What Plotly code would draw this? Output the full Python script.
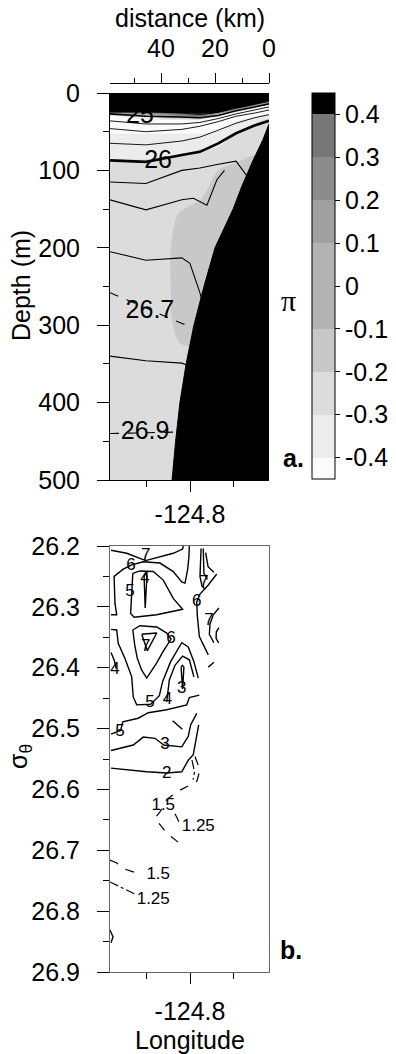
import plotly.graph_objects as go

W, H = 396, 1054
FONT = "Liberation Sans, Arial, Helvetica, sans-serif"

# ---------------- panel a data ----------------
station_km = [58.9, 45.6, 32.3, 25.6, 18.8, 12.2, 5.4, 0.0]

pi_km = [0.0, 5.4, 12.2, 18.8, 25.6, 32.3, 38.9, 45.6, 58.9]
pi_depth = [0, 5, 10, 15, 20, 25, 30, 35, 45, 60, 80, 100, 130, 160, 200, 250, 300, 350, 400, 500]
pi_field = [
    [0.45, 0.45, 0.45, 0.45, 0.45, 0.45, 0.45, 0.45, 0.45],
    [0.45, 0.45, 0.45, 0.45, 0.45, 0.45, 0.45, 0.45, 0.45],
    [0.42, 0.45, 0.45, 0.45, 0.45, 0.45, 0.45, 0.45, 0.45],
    [-0.42, 0.41, 0.45, 0.45, 0.45, 0.45, 0.45, 0.45, 0.45],
    [-0.42, -0.42, 0.41, 0.45, 0.45, 0.45, 0.45, 0.45, 0.45],
    [-0.42, -0.42, -0.42, 0.42, 0.45, 0.45, 0.45, 0.45, 0.42],
    [-0.35, -0.42, -0.42, -0.42, 0.30, 0.20, 0.0, -0.30, -0.42],
    [-0.25, -0.35, -0.42, -0.42, -0.42, -0.42, -0.42, -0.42, -0.42],
    [-0.25, -0.25, -0.35, -0.42, -0.42, -0.42, -0.42, -0.42, -0.42],
    [-0.25, -0.25, -0.25, -0.35, -0.38, -0.38, -0.38, -0.38, -0.38],
    [-0.20, -0.20, -0.25, -0.25, -0.25, -0.30, -0.32, -0.32, -0.32],
    [-0.15, -0.15, -0.15, -0.20, -0.25, -0.25, -0.25, -0.25, -0.25],
    [-0.15, -0.15, -0.15, -0.15, -0.22, -0.25, -0.25, -0.25, -0.25],
    [-0.15, -0.15, -0.15, -0.15, -0.15, -0.18, -0.25, -0.25, -0.25],
    [-0.12, -0.12, -0.12, -0.12, -0.12, -0.12, -0.25, -0.25, -0.25],
    [-0.12, -0.12, -0.12, -0.12, -0.12, -0.12, -0.25, -0.25, -0.25],
    [-0.15, -0.15, -0.15, -0.15, -0.15, -0.15, -0.25, -0.25, -0.25],
    [-0.25, -0.25, -0.25, -0.25, -0.25, -0.25, -0.25, -0.25, -0.25],
    [-0.25, -0.25, -0.25, -0.25, -0.25, -0.25, -0.25, -0.25, -0.25],
    [-0.25, -0.25, -0.25, -0.25, -0.25, -0.25, -0.25, -0.25, -0.25],
]
pi_levels = [-0.4, -0.3, -0.2, -0.1, 0.0, 0.1, 0.2, 0.3, 0.4]
pi_ticktext = ["-0.4", "-0.3", "-0.2", "-0.1", "0", "0.1", "0.2", "0.3", "0.4"]
pi_colors = ["#fbfbfb", "#ececec", "#dcdcdc", "#c8c8c8", "#b3b3b3",
             "#a0a0a0", "#8c8c8c", "#777777", "#5f5f5f", "#000000"]

bathy_km = [0.0, 2.2, 5.9, 10.0, 13.3, 20.0, 24.1, 27.8, 30.7, 33.0, 34.6, 35.9, 0.0]
bathy_depth = [40, 60, 87, 120, 150, 200, 250, 300, 350, 400, 450, 500, 500]

# isopycnal depths (m) at the stations
iso_t1 = [6, 7, 10, 12, 9, 6, 4, 3]
iso_t2 = [10, 11, 14, 16, 13, 9, 6, 4]
iso_t3 = [14, 15, 18, 20, 17, 12, 8, 6]
iso_t4 = [18, 19, 22, 24, 21, 15, 11, 8]
iso_t5 = [22, 24, 26, 28, 25, 19, 14, 11]
iso_250 = [27, 30, 31, 32, 29, 23, 18, 14]
iso_t7 = [36, 40, 40, 38, 33, 27, 22, 18]
iso_t8 = [46, 50, 47, 43, 37, 30, 26, 22]
iso_t9 = [65, 67, 62, 57, 48, 39, 32, 28]
iso_260 = [87, 89, 80, 76, 65, 52, 42, 36]
iso_b_km = [58.9, 45.6, 32.3, 25.6, 18.8, 12.2, 8.0]
iso_b_depth = [115, 117, 100, 97, 92, 88, 108]
iso_c_km = [58.9, 45.6, 32.3, 28.0, 23.0, 19.3, 16.5]
iso_c_depth = [138, 151, 138, 136, 145, 112, 100]
iso_d_km = [58.9, 45.6, 32.3, 29.3, 25.6, 23.5]
iso_d_depth = [205, 216, 213, 220, 258, 285]
iso_267_km = [58.9, 28.0]
iso_267_depth = [258, 304]
iso_e_km = [58.9, 45.6, 32.3, 30.0]
iso_e_depth = [340, 346, 349, 352]
iso_269_km = [58.9, 33.5]
iso_269_depth = [440, 438]

a_label_km = [47.8, 41.1, 44.1, 45.9]
a_label_depth = [31, 89, 283, 439]
a_label_text = ["25", "26", "26.7", "26.9"]

# ---------------- panel b data (longitude, sigma-theta) ----------------
b7a_lon = [-125.163, -125.091, -125.004, -124.938, -124.877, -124.834, -124.831]
b7a_sig = [26.207, 26.212, 26.224, 26.218, 26.212, 26.205, 26.200]
b6a_lon = [-125.163, -125.137, -125.145, -125.149, -125.107, -125.068, -125.015, -124.938,
           -124.877, -124.838, -124.823, -124.811, -124.805, -124.803]
b6a_sig = [26.313, 26.313, 26.294, 26.250, 26.238, 26.231, 26.226, 26.228,
           26.242, 26.259, 26.261, 26.239, 26.218, 26.200]
b5a_lon = [-125.063, -125.073, -125.057, -124.953, -124.834, -124.877, -124.923, -124.969, -125.030, -125.063]
b5a_sig = [26.245, 26.311, 26.317, 26.313, 26.304, 26.286, 26.256, 26.242, 26.241, 26.245]
b4a_lon = [-125.011, -125.006, -124.998, -125.004, -125.011]
b4a_sig = [26.250, 26.302, 26.250, 26.244, 26.250]
br1_lon = [-124.749, -124.754, -124.745, -124.730]
br1_sig = [26.204, 26.250, 26.266, 26.271]
br2_lon = [-124.739, -124.736, -124.720]
br2_sig = [26.204, 26.245, 26.255]
br3_lon = [-124.728, -124.717, -124.690]
br3_sig = [26.211, 26.234, 26.243]
br4_lon = [-124.677, -124.716, -124.754, -124.769, -124.766, -124.757, -124.716]
br4_sig = [26.246, 26.264, 26.279, 26.292, 26.316, 26.349, 26.379]
bar1_lon = [-124.667, -124.693, -124.708, -124.711, -124.690]
bar1_sig = [26.302, 26.313, 26.328, 26.345, 26.359]
bar2_lon = [-124.667, -124.679, -124.680, -124.668]
bar2_sig = [26.334, 26.341, 26.352, 26.359]
bf_lon = [-124.716, -124.690]
bf_sig = [26.399, 26.391]
b7b_lon = [-125.022, -124.953, -124.996, -125.022]
b7b_sig = [26.345, 26.343, 26.372, 26.345]
b6b_lon = [-125.063, -125.030, -124.953, -124.907, -124.887, -124.920, -124.953, -124.999,
           -125.022, -125.042, -125.054, -125.063]
b6b_sig = [26.338, 26.331, 26.333, 26.343, 26.353, 26.371, 26.392, 26.417,
           26.404, 26.385, 26.363, 26.338]
b5b_lon = [-125.163, -125.137, -125.130, -125.099, -125.068, -125.061, -125.045, -124.981,
           -124.941, -124.926, -124.889, -124.838, -124.808, -124.782, -124.762]
b5b_sig = [26.337, 26.338, 26.360, 26.385, 26.415, 26.448, 26.461, 26.460,
           26.446, 26.423, 26.390, 26.359, 26.366, 26.390, 26.417]
b4b_lon = [-124.907, -124.895, -124.869, -124.834, -124.803, -124.782]
b4b_sig = [26.456, 26.420, 26.396, 26.381, 26.387, 26.415]
b3a_lon = [-124.841, -124.834, -124.828, -124.835, -124.841]
b3a_sig = [26.399, 26.435, 26.399, 26.396, 26.399]
b4c_lon = [-125.163, -125.148, -125.140]
b4c_sig = [26.375, 26.388, 26.401]
b5c_lon = [-125.163, -125.119, -125.109, -125.038, -124.992, -124.907, -124.815, -124.803, -124.757]
b5c_sig = [26.509, 26.503, 26.489, 26.483, 26.474, 26.469, 26.461, 26.449, 26.445]
bdash_lon = [-124.880, -124.835]
bdash_sig = [26.487, 26.501]
b3b_lon = [-125.163, -125.061, -125.015, -124.961, -124.920, -124.838, -124.808, -124.797, -124.769]
b3b_sig = [26.536, 26.527, 26.514, 26.516, 26.527, 26.530, 26.513, 26.494, 26.475]
b2_lon = [-125.163, -124.999, -124.907, -124.838, -124.808, -124.785, -124.760]
b2_sig = [26.565, 26.571, 26.573, 26.571, 26.552, 26.543, 26.494]
b15a_lon = [-124.777, -124.754, -124.769, -124.861, -124.907, -124.938, -124.961, -124.907, -124.846]
b15a_sig = [26.546, 26.568, 26.587, 26.604, 26.617, 26.637, 26.647, 26.672, 26.689]
b125a_lon = [-124.791, -124.779, -124.786]
b125a_sig = [26.552, 26.571, 26.584]
b125b_lon = [-124.869, -124.851]
b125b_sig = [26.640, 26.653]
b15b_lon = [-125.168, -125.137, -125.091, -125.030]
b15b_sig = [26.716, 26.721, 26.732, 26.739]
b125c_lon = [-125.168, -125.122, -125.076, -125.053]
b125c_sig = [26.752, 26.760, 26.768, 26.772]
barc_lon = [-125.168, -125.154, -125.163]
barc_sig = [26.831, 26.842, 26.852]

b_label_lon = [-125.004, -125.071, -125.076, -125.007, -124.736, -124.769, -124.713, -125.004,
               -124.887, -124.984, -124.903, -124.838, -125.145, -125.122, -124.915, -124.907,
               -124.923, -124.762, -124.946, -124.969]
b_label_sig = [26.216, 26.233, 26.275, 26.253, 26.261, 26.292, 26.323, 26.366,
               26.353, 26.458, 26.453, 26.435, 26.404, 26.505, 26.527, 26.575,
               26.626, 26.661, 26.741, 26.781]
b_label_text = ["7", "6", "5", "4", "7", "6", "7", "7", "6", "5", "4", "3", "4", "5", "3", "2",
                "1.5", "1.25", "1.5", "1.25"]

lon_ticks = [-124.8]
lon_minor = [-125.0, -124.6]
depth_ticks = [0, 100, 200, 300, 400, 500]
depth_minor = [50, 150, 250, 350, 450]
dist_ticks = [0, 20, 40]
dist_minor = [10, 30, 50]
sig_ticks = [26.2, 26.3, 26.4, 26.5, 26.6, 26.7, 26.8, 26.9]
sig_minor = [26.25, 26.35, 26.45, 26.55, 26.65, 26.75, 26.85]

# ---------------- figure ----------------
fig = go.Figure()

# stepped colour scale matching plotly's filled-contour colour map
c_start, c_end, c_size = pi_levels[0], pi_levels[-1], 0.1
dom_lo, dom_hi = c_start - c_size, c_end


def spos(v):
    return round((v - dom_lo) / (dom_hi - dom_lo), 6)


cscale = [[0.0, pi_colors[0]]]
for i, e in enumerate(pi_levels[:-1]):
    cscale.append([spos(e), pi_colors[i]])
    cscale.append([spos(e), pi_colors[i + 1]])
cscale += [[0.99, pi_colors[8]], [0.99, pi_colors[9]], [1.0, pi_colors[9]]]

# empty trace that registers the longitude axis of panel a
fig.add_trace(go.Scatter(x=lon_ticks, y=[None], mode="markers", xaxis="x", yaxis="y",
                         hoverinfo="skip", showlegend=False))

fig.add_trace(go.Contour(
    x=pi_km, y=pi_depth, z=pi_field, xaxis="x2", yaxis="y",
    autocontour=False,
    contours=dict(start=c_start, end=c_end, size=c_size, coloring="fill", showlines=False),
    line=dict(width=0, smoothing=1),
    colorscale=cscale, hoverinfo="skip",
    colorbar=dict(
        x=312 / W, xanchor="left", y=1 - 286 / H, yanchor="middle",
        len=386, lenmode="pixels", thickness=23, thicknessmode="pixels",
        outlinewidth=1, outlinecolor="black", xpad=0, ypad=0,
        ticks="outside", ticklen=5, tickcolor="black",
        tickvals=pi_levels, ticktext=pi_ticktext,
        tickfont=dict(family=FONT, size=25, color="black"),
    ),
))

thin = dict(color="black", width=0.9)
for d in [iso_t1, iso_t2, iso_t3, iso_t4, iso_t5, iso_t7, iso_t8, iso_t9]:
    fig.add_trace(go.Scatter(x=station_km, y=d, mode="lines", line=thin, xaxis="x2", yaxis="y", hoverinfo="skip"))
fig.add_trace(go.Scatter(x=station_km, y=iso_250, mode="lines", line=dict(color="black", width=1.6), xaxis="x2", yaxis="y"))
fig.add_trace(go.Scatter(x=station_km, y=iso_260, mode="lines", line=dict(color="black", width=2.6), xaxis="x2", yaxis="y"))
for xs, ys in [(iso_b_km, iso_b_depth), (iso_c_km, iso_c_depth), (iso_d_km, iso_d_depth), (iso_e_km, iso_e_depth)]:
    fig.add_trace(go.Scatter(x=xs, y=ys, mode="lines", line=dict(color="black", width=1.1), xaxis="x2", yaxis="y"))
for xs, ys in [(iso_267_km, iso_267_depth), (iso_269_km, iso_269_depth)]:
    fig.add_trace(go.Scatter(x=xs, y=ys, mode="lines", line=dict(color="black", width=1.1, dash="dash"), xaxis="x2", yaxis="y"))

fig.add_trace(go.Scatter(x=bathy_km, y=bathy_depth, mode="lines", fill="toself", fillcolor="black",
                         line=dict(color="black", width=1), xaxis="x2", yaxis="y", hoverinfo="skip"))

fig.add_trace(go.Scatter(x=a_label_km, y=a_label_depth, text=a_label_text, mode="text",
                         textfont=dict(family=FONT, size=25, color="black"), xaxis="x2", yaxis="y"))

fig.add_trace(go.Scatter(x=station_km, y=[-5] * len(station_km), mode="markers", cliponaxis=False,
                         marker=dict(symbol="triangle-down", size=7, color="black"), xaxis="x2", yaxis="y"))

# panel b
solid_b = [(b7a_lon, b7a_sig), (b6a_lon, b6a_sig), (b5a_lon, b5a_sig), (b4a_lon, b4a_sig),
           (br1_lon, br1_sig), (br2_lon, br2_sig), (br3_lon, br3_sig), (br4_lon, br4_sig),
           (bar1_lon, bar1_sig), (bar2_lon, bar2_sig), (bf_lon, bf_sig), (b7b_lon, b7b_sig),
           (b6b_lon, b6b_sig), (b5b_lon, b5b_sig), (b4b_lon, b4b_sig), (b3a_lon, b3a_sig),
           (b4c_lon, b4c_sig), (b5c_lon, b5c_sig), (bdash_lon, bdash_sig), (b3b_lon, b3b_sig),
           (b2_lon, b2_sig), (barc_lon, barc_sig)]
for xs, ys in solid_b:
    fig.add_trace(go.Scatter(x=xs, y=ys, mode="lines", line=dict(color="black", width=1.4),
                             xaxis="x3", yaxis="y3", hoverinfo="skip"))
for xs, ys in [(b15a_lon, b15a_sig), (b15b_lon, b15b_sig)]:
    fig.add_trace(go.Scatter(x=xs, y=ys, mode="lines", line=dict(color="black", width=1.2, dash="dash"),
                             xaxis="x3", yaxis="y3"))
for xs, ys in [(b125a_lon, b125a_sig), (b125b_lon, b125b_sig), (b125c_lon, b125c_sig)]:
    fig.add_trace(go.Scatter(x=xs, y=ys, mode="lines", line=dict(color="black", width=1.2, dash="dashdot"),
                             xaxis="x3", yaxis="y3"))
fig.add_trace(go.Scatter(x=b_label_lon, y=b_label_sig, text=b_label_text, mode="text",
                         textfont=dict(family=FONT, size=17, color="black"), xaxis="x3", yaxis="y3"))

# ---------------- layout ----------------
xdom = [110 / W, 269 / W]
lon_range = [-124.8 - 80 * 0.2 / 43.5, -124.8 + 79 * 0.2 / 43.5]
tickfont = dict(family=FONT, size=25, color="black")
common = dict(showgrid=False, zeroline=False, ticks="outside", tickcolor="black", tickwidth=1,
              tickfont=tickfont, automargin=False)

fig.update_layout(
    width=W, height=H, autosize=False, margin=dict(l=0, r=0, t=0, b=0, pad=0, autoexpand=False),
    paper_bgcolor="white", plot_bgcolor="white", showlegend=False,
    font=dict(family=FONT, size=25, color="black"),
    xaxis=dict(domain=xdom, anchor="y", range=lon_range, showline=True, linecolor="black",
               ticklen=11, tickvals=lon_ticks, ticktext=["-124.8"], ticklabelstandoff=1,
               minor=dict(tickvals=lon_minor, ticks="outside", ticklen=6, tickcolor="black", showgrid=False),
               **common),
    xaxis2=dict(domain=xdom, overlaying="x", anchor="free", position=1 - 83 / H, side="top",
                range=[58.9, 0], showline=True, linecolor="black", ticklen=10, tickvals=dist_ticks,
                ticktext=[str(v) for v in dist_ticks], ticklabelstandoff=6,
                minor=dict(tickvals=dist_minor, ticks="outside", ticklen=5, tickcolor="black", showgrid=False),
                **common),
    yaxis=dict(domain=[1 - 480 / H, 1 - 93 / H], anchor="x", range=[500, 0], showline=True,
               linecolor="black", ticklen=12, tickvals=depth_ticks, ticklabelstandoff=12,
               minor=dict(tickvals=depth_minor, ticks="outside", ticklen=6, tickcolor="black", showgrid=False),
               **common),
    xaxis3=dict(domain=xdom, anchor="y3", range=lon_range, showline=True, linecolor="#666666",
                mirror=True, ticklen=11, tickvals=lon_ticks, ticktext=["-124.8"], ticklabelstandoff=6,
                minor=dict(tickvals=lon_minor, ticks="outside", ticklen=6, tickcolor="black", showgrid=False),
                **common),
    yaxis3=dict(domain=[1 - 972 / H, 1 - 546 / H], anchor="x3", range=[26.9, 26.2], showline=True,
                linecolor="#666666", mirror=True, ticklen=12, tickvals=sig_ticks,
                ticktext=["%.1f" % v for v in sig_ticks], ticklabelstandoff=12,
                minor=dict(tickvals=sig_minor, ticks="outside", ticklen=6, tickcolor="black", showgrid=False),
                **common),
    annotations=[
        dict(text="distance (km)", x=189.5 / W, y=1 - 18 / H, xref="paper", yref="paper",
             showarrow=False, xanchor="center", yanchor="middle", font=dict(family=FONT, size=25)),
        dict(text="Depth (m)", x=21 / W, y=1 - 286 / H, xref="paper", yref="paper", textangle=-90,
             showarrow=False, xanchor="center", yanchor="middle", font=dict(family=FONT, size=25)),
        dict(text="σ<sub>θ</sub>", x=20 / W, y=1 - 757 / H, xref="paper", yref="paper", textangle=-90,
             showarrow=False, xanchor="center", yanchor="middle", font=dict(family=FONT, size=25)),
        dict(text="Longitude", x=189.5 / W, y=1 - 1040 / H, xref="paper", yref="paper",
             showarrow=False, xanchor="center", yanchor="middle", font=dict(family=FONT, size=25)),
        dict(text="π", x=288 / W, y=1 - 300 / H, xref="paper", yref="paper",
             showarrow=False, xanchor="center", yanchor="middle",
             font=dict(family="Liberation Serif, DejaVu Serif, serif", size=30)),
        dict(text="<b>a.</b>", x=293 / W, y=1 - 458 / H, xref="paper", yref="paper",
             showarrow=False, xanchor="center", yanchor="middle", font=dict(family=FONT, size=25)),
        dict(text="<b>b.</b>", x=291 / W, y=1 - 950 / H, xref="paper", yref="paper",
             showarrow=False, xanchor="center", yanchor="middle", font=dict(family=FONT, size=25)),
    ],
)

fig.write_html("out.html")
